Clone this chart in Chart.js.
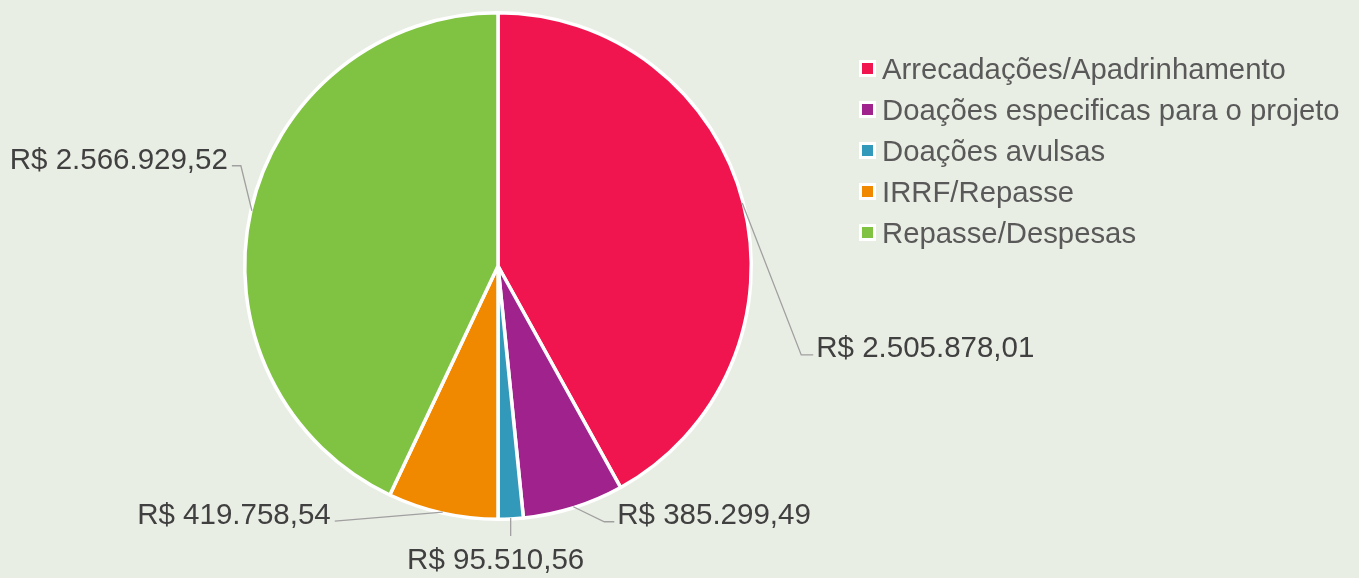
<!DOCTYPE html>
<html>
<head>
<meta charset="utf-8">
<script src="https://cdn.jsdelivr.net/npm/chart.js@4/dist/chart.umd.min.js"></script>
<style>
  html, body { margin: 0; padding: 0; background: #e9eee4; }
  #wrap { position: relative; width: 1359px; height: 578px; }
  #legend { position: absolute; left: 859px; top: 48px; font-family: "Liberation Sans", Arial, sans-serif; font-size: 29.3px; color: #595959; }
  #legend div { height: 41px; display: flex; align-items: center; white-space: nowrap; }
  #legend span.box { width: 11px; height: 11px; border: 3px solid #fff; margin-right: 6px; }
</style>
</head>
<body>
<div id="wrap">
  <canvas id="pie" width="1359" height="578"></canvas>
  <div id="legend"></div>
</div>
<script>
/* ===== DATA ===== */
const LABELS = [
  "Arrecadações/Apadrinhamento",
  "Doações especificas para o projeto",
  "Doações avulsas",
  "IRRF/Repasse",
  "Repasse/Despesas"
];
const VALUES = [2505878.01, 385299.49, 95510.56, 419758.54, 2566929.52];
const COLORS = ["#f0154f", "#a0228c", "#3399bb", "#f08800", "#80c342"];
/* ================ */

// leader line geometry per slice, relative to the slice edge point
// elbow: [dx, dy], tail: horizontal run after elbow, side: text side
const LEADERS = [
  { elbow: [59, 152], tail: 12, align: "left" },
  { elbow: [31, 15], tail: 10, align: "left" },
  { elbow: [0, 18], tail: 0, align: "center" },
  { elbow: [-108, 9], tail: 0, align: "right" },
  { elbow: [-11, -45], tail: -9, align: "right" }
];

function brl(v) {
  return "R$ " + v.toLocaleString("pt-BR", { minimumFractionDigits: 2, maximumFractionDigits: 2 });
}

const leaderPlugin = {
  id: "leaders",
  afterDatasetsDraw(chart) {
    const ctx = chart.ctx;
    const meta = chart.getDatasetMeta(0);
    ctx.save();
    ctx.font = '29.5px "Liberation Sans", Arial, sans-serif';
    ctx.fillStyle = "#404040";
    ctx.strokeStyle = "#a0a0a0";
    ctx.lineWidth = 1.3;
    meta.data.forEach((arc, i) => {
      const p = arc.getProps(["x", "y", "startAngle", "endAngle", "outerRadius"], true);
      const mid = (p.startAngle + p.endAngle) / 2;
      const ex = p.x + Math.cos(mid) * (p.outerRadius - 1);
      const ey = p.y + Math.sin(mid) * (p.outerRadius - 1);
      const L = LEADERS[i];
      const bx = ex + L.elbow[0];
      const by = ey + L.elbow[1];
      const tx = bx + L.tail;
      ctx.beginPath();
      ctx.moveTo(ex, ey);
      ctx.lineTo(bx, by);
      ctx.lineTo(tx, by);
      ctx.stroke();
      const txt = brl(VALUES[i]);
      ctx.textBaseline = "middle";
      ctx.textAlign = L.align;
      if (L.align === "left") ctx.fillText(txt, tx + 3, by - 6);
      else if (L.align === "right") ctx.fillText(txt, tx - 4, by - 5);
      else ctx.fillText(txt, tx - 15, by + 25);
    });
    ctx.restore();
  }
};

new Chart(document.getElementById("pie"), {
  type: "pie",
  data: {
    labels: LABELS,
    datasets: [{
      data: VALUES,
      backgroundColor: COLORS,
      borderColor: "#ffffff",
      borderWidth: 3.5
    }]
  },
  options: {
    responsive: false,
    animation: false,
    layout: { padding: { left: 243, right: 606, top: 11, bottom: 57 } },
    plugins: { legend: { display: false }, tooltip: { enabled: false } }
  },
  plugins: [leaderPlugin]
});

// legend
const lg = document.getElementById("legend");
LABELS.forEach((l, i) => {
  const row = document.createElement("div");
  row.innerHTML = `<span class="box" style="background:${COLORS[i]}"></span>${l}`;
  lg.appendChild(row);
});
</script>
</body>
</html>
